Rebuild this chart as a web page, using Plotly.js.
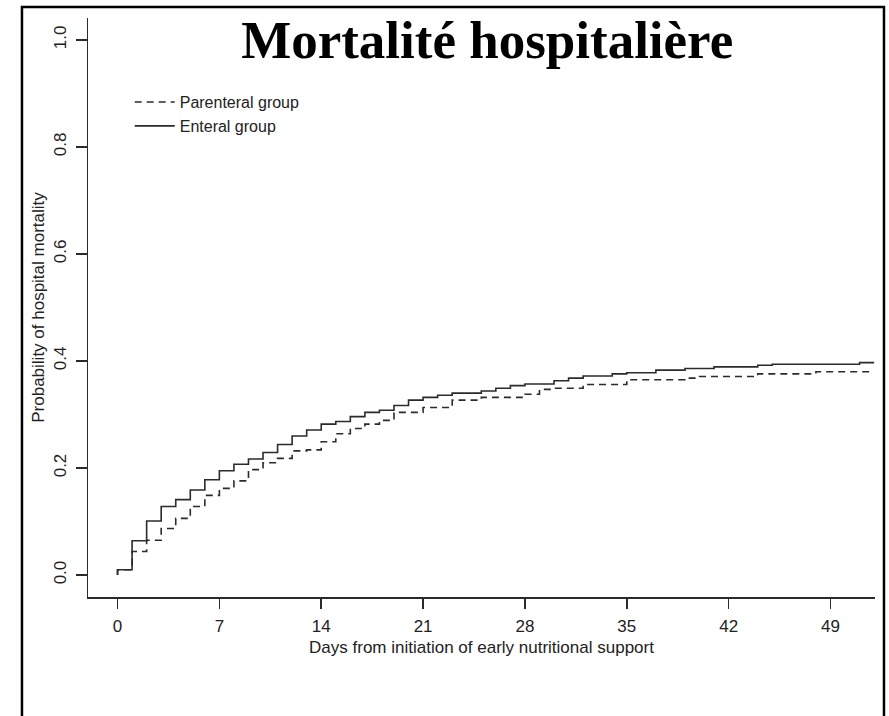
<!DOCTYPE html>
<html>
<head>
<meta charset="utf-8">
<script src="https://cdn.plot.ly/plotly-3.0.1.min.js"></script>
<style>
  html, body { margin: 0; padding: 0; background: #fff; }
  #chart { width: 889px; height: 716px; }
</style>
</head>
<body>
<div id="chart"></div>
<script>
// ---- data (step functions, cumulative mortality) ----
const chartTitle = "Mortalité hospitalière";
const xTitle = "Days from initiation of early nutritional support";
const yTitle = "Probability of hospital mortality";

const parenteralName = "Parenteral group";
const parenteralDays = [0, 0, 1, 2, 3, 4, 5, 6, 7, 8, 9, 10, 11, 12, 13, 14, 15, 16, 17, 18, 19, 21, 23, 25, 28, 29, 30, 32, 35, 39, 40, 44, 48, 52];
const parenteralProb = [0, 0.010, 0.044, 0.065, 0.087, 0.106, 0.128, 0.149, 0.162, 0.176, 0.197, 0.210, 0.218, 0.232, 0.234, 0.249, 0.264, 0.274, 0.282, 0.289, 0.304, 0.313, 0.327, 0.332, 0.338, 0.347, 0.349, 0.356, 0.365, 0.368, 0.371, 0.376, 0.380, 0.380];

const enteralName = "Enteral group";
const enteralDays = [0, 0, 1, 2, 3, 4, 5, 6, 7, 8, 9, 10, 11, 12, 13, 14, 15, 16, 17, 18, 19, 20, 21, 22, 23, 25, 26, 27, 28, 30, 31, 32, 34, 35, 37, 39, 41, 44, 45, 51, 52];
const enteralProb = [0, 0.010, 0.064, 0.101, 0.128, 0.141, 0.159, 0.178, 0.195, 0.207, 0.217, 0.229, 0.244, 0.260, 0.271, 0.282, 0.287, 0.296, 0.304, 0.308, 0.317, 0.327, 0.332, 0.336, 0.340, 0.344, 0.349, 0.354, 0.357, 0.363, 0.368, 0.372, 0.376, 0.378, 0.383, 0.386, 0.389, 0.392, 0.394, 0.397, 0.397];

const xTickVals = [0, 7, 14, 21, 28, 35, 42, 49];
const yTickVals = [0, 0.2, 0.4, 0.6, 0.8, 1.0];
const yTickText = ["0.0", "0.2", "0.4", "0.6", "0.8", "1.0"];

// ---- figure ----
const ink = "#2b2b2b";
const sans = "Liberation Sans, Arial, sans-serif";

const traces = [
  {
    x: parenteralDays, y: parenteralProb, name: parenteralName,
    type: "scatter", mode: "lines",
    line: { shape: "hv", color: ink, width: 1.6, dash: "7px,5px" }
  },
  {
    x: enteralDays, y: enteralProb, name: enteralName,
    type: "scatter", mode: "lines",
    line: { shape: "hv", color: ink, width: 1.6 }
  }
];

const layout = {
  width: 889, height: 716,
  margin: { l: 88, r: 14, t: 18, b: 119, autoexpand: false },
  paper_bgcolor: "#fff", plot_bgcolor: "#fff",
  font: { family: sans, size: 17, color: "#222" },
  title: {
    text: chartTitle,
    font: { family: "Liberation Serif, Times New Roman, serif", size: 53, color: "#000", weight: "bold" },
    xref: "container", x: 0.548, xanchor: "center",
    yref: "container", y: 0.945, yanchor: "middle"
  },
  xaxis: {
    range: [-2.03, 52.06],
    tickvals: xTickVals,
    ticks: "outside", ticklen: 10, tickwidth: 1.5, tickcolor: ink,
    ticklabelstandoff: 3,
    showline: true, linecolor: ink, linewidth: 1.5, mirror: false,
    showgrid: false, zeroline: false,
    tickfont: { family: sans, size: 17, color: "#222" },
    title: { text: xTitle, font: { family: sans, size: 17, color: "#222" }, standoff: 6 },
    automargin: false
  },
  yaxis: {
    range: [-0.041, 1.041],
    tickvals: yTickVals, ticktext: yTickText,
    tickangle: -90,
    ticks: "outside", ticklen: 11, tickwidth: 1.5, tickcolor: ink,
    ticklabelstandoff: 3,
    showline: true, linecolor: ink, linewidth: 1.5, mirror: false,
    showgrid: false, zeroline: false,
    tickfont: { family: sans, size: 17, color: "#222" },
    title: { text: yTitle, font: { family: sans, size: 17, color: "#222" }, standoff: 2 },
    automargin: false
  },
  showlegend: true,
  legend: {
    x: 0.053, xanchor: "left",
    y: 0.884, yanchor: "top",
    itemwidth: 40,
    bgcolor: "rgba(0,0,0,0)", borderwidth: 0,
    font: { family: sans, size: 16, color: "#222" },
    traceorder: "normal"
  },
  shapes: [
    {
      type: "rect", xref: "paper", yref: "paper",
      x0: -0.0839, x1: 1.0114, y0: -0.25, y1: 1.019,
      line: { color: "#000", width: 2.5 }, fillcolor: "rgba(0,0,0,0)", layer: "above"
    }
  ]
};

Plotly.newPlot("chart", traces, layout, { displayModeBar: false, staticPlot: true });
</script>
</body>
</html>
